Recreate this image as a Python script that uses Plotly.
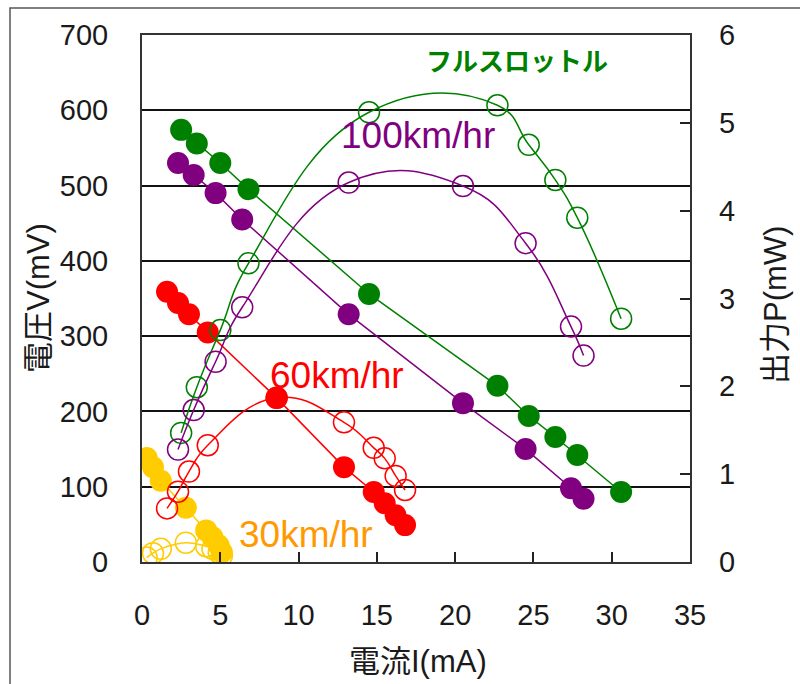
import plotly.graph_objects as go

# ---- data ----
# Full throttle (green)
ft_I = [2.5, 3.5, 5.0, 6.8, 14.5, 22.7, 24.7, 26.4, 27.8, 30.6]
ft_V = [574, 556, 530, 495, 356, 234, 194, 166, 142, 93]
ft_P = [1.47, 1.99, 2.64, 3.40, 5.12, 5.20, 4.75, 4.35, 3.92, 2.77]

# 100 km/hr (purple)
k100_I = [2.3, 3.3, 4.7, 6.4, 13.2, 20.5, 24.5, 27.4, 28.2]
k100_V = [530, 514, 490, 455, 329, 211, 150, 98, 84]
k100_P = [1.28, 1.73, 2.28, 2.90, 4.32, 4.28, 3.63, 2.68, 2.35]

# 60 km/hr (red)
k60_I = [1.6, 2.3, 3.0, 4.2, 8.6, 12.9, 14.8, 15.5, 16.2, 16.8]
k60_V = [359, 344, 329, 305, 218, 126, 93, 78, 62, 49]
k60_P = [0.61, 0.80, 1.03, 1.33, 1.87, 1.59, 1.30, 1.18, 0.98, 0.82]

# 30 km/hr (yellow)
k30_I = [0.3, 0.7, 1.2, 2.8, 4.1, 4.5, 4.9, 5.1]
k30_V = [138, 126, 108, 72, 42, 33, 22, 13]
k30_P = [0.05, 0.10, 0.15, 0.22, 0.18, 0.15, 0.11, 0.07]

series = [
    ("フルスロットル", ft_I, ft_V, ft_P, "#008000"),
    ("100km/hr", k100_I, k100_V, k100_P, "#800080"),
    ("60km/hr", k60_I, k60_V, k60_P, "#FF0000"),
    ("30km/hr", k30_I, k30_V, k30_P, "#FFCC00"),
]

labels = [
    ("フルスロットル", 23.95, 664, "#008000", 26, "bold"),
    ("100km/hr", 17.6, 567, "#800080", 37, "normal"),
    ("60km/hr", 12.45, 248, "#FF0000", 37, "normal"),
    ("30km/hr", 10.5, 36, "#FF9900", 37, "normal"),
]

x_ticks = [0, 5, 10, 15, 20, 25, 30, 35]
v_ticks = [0, 100, 200, 300, 400, 500, 600, 700]
p_ticks = [0, 1, 2, 3, 4, 5, 6]

FONT = "Liberation Sans, Arial, Noto Sans CJK JP, sans-serif"

fig = go.Figure()

for name, I, V, P, col in series:
    fig.add_trace(go.Scatter(
        x=I, y=P, yaxis="y2", mode="lines+markers",
        line=dict(color=col, width=1.5, shape="spline", smoothing=1.3),
        marker=dict(symbol="circle-open", size=21, color=col, line=dict(width=1.5, color=col)),
        showlegend=False, name=name + " P"))

for name, I, V, P, col in series:
    fig.add_trace(go.Scatter(
        x=I, y=V, yaxis="y", mode="lines+markers",
        line=dict(color=col, width=1.5),
        marker=dict(symbol="circle", size=22, color=col),
        showlegend=False, name=name + " V"))

for text, x, y, col, sz, wt in labels:
    fig.add_annotation(x=x, y=y, xref="x", yref="y", text=text, showarrow=False,
                       font=dict(family=FONT, size=sz, color=col, weight=wt),
                       xanchor="center", yanchor="middle")

# axis titles
fig.add_annotation(x=(38 - 142) / 548, y=(562 - 298) / 527, xref="paper", yref="paper",
                   text="電圧V(mV)", textangle=-90, showarrow=False,
                   font=dict(family=FONT, size=31, color="#1a1a1a"),
                   xanchor="center", yanchor="middle")
fig.add_annotation(x=(775 - 142) / 548, y=(562 - 305) / 527, xref="paper", yref="paper",
                   text="出力P(mW)", textangle=-90, showarrow=False,
                   font=dict(family=FONT, size=31, color="#1a1a1a"),
                   xanchor="center", yanchor="middle")
fig.add_annotation(x=(418 - 142) / 548, y=(562 - 661) / 527, xref="paper", yref="paper",
                   text="電流I(mA)", showarrow=False,
                   font=dict(family=FONT, size=31, color="#1a1a1a"),
                   xanchor="center", yanchor="middle")

# outer frame of the chart area
fig.add_shape(type="rect", xref="paper", yref="paper",
              x0=(10 - 142) / 548, x1=1.4, y0=-0.5, y1=(562 - 8) / 527,
              line=dict(color="#555555", width=1.5), fillcolor="rgba(0,0,0,0)", layer="below")

fig.update_layout(
    width=800, height=684,
    margin=dict(l=142, r=110, t=35, b=122),
    paper_bgcolor="white", plot_bgcolor="white",
    font=dict(family=FONT, size=29, color="#1a1a1a"),
    xaxis=dict(range=[0, 35], tickvals=x_ticks, ticks="inside", ticklen=10, tickwidth=1.5,
               tickcolor="#222", showline=True, linecolor="#333", linewidth=2, mirror=True,
               showgrid=False, zeroline=False, ticklabelstandoff=26,
               tickfont=dict(family=FONT, size=29, color="#1a1a1a")),
    yaxis=dict(range=[0, 700], tickvals=v_ticks, ticks="", showline=True, linecolor="#333",
               linewidth=2, mirror=True, showgrid=True, gridcolor="#111", gridwidth=1.5,
               zeroline=False, ticklabelstandoff=26,
               tickfont=dict(family=FONT, size=29, color="#1a1a1a")),
    yaxis2=dict(range=[0, 6], tickvals=p_ticks, overlaying="y", side="right", ticks="inside",
                ticklen=10, tickwidth=1.5, tickcolor="#222", showgrid=False, zeroline=False,
                showline=False, ticklabelstandoff=28,
                tickfont=dict(family=FONT, size=29, color="#1a1a1a")),
)

fig.write_html("out.html")
